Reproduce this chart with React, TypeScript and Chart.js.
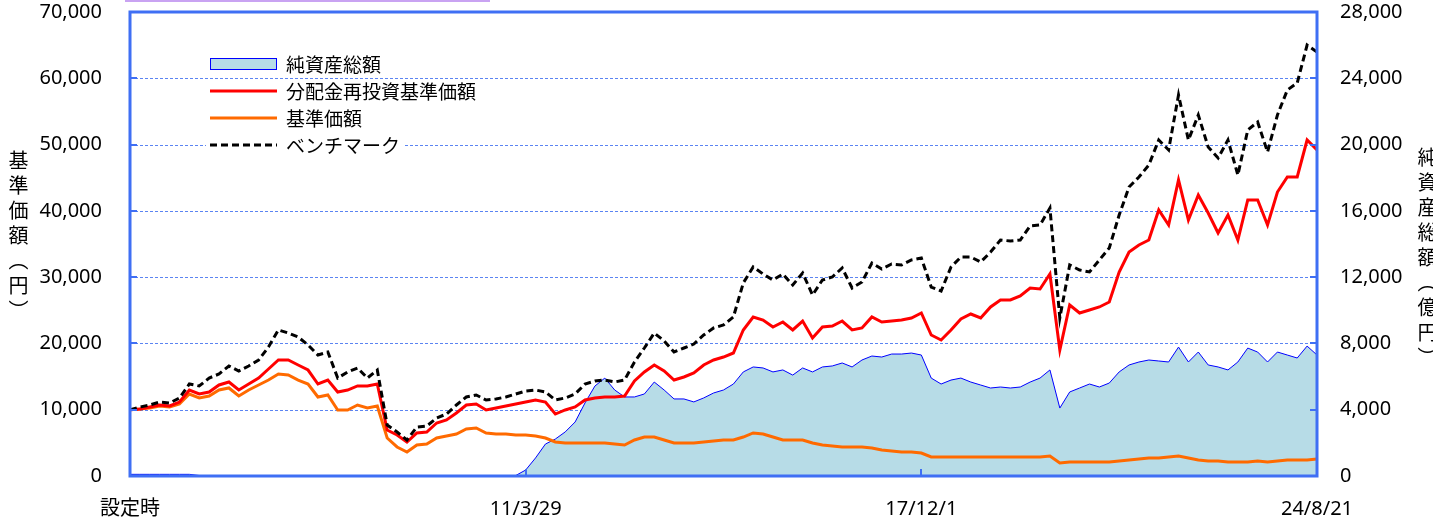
import React, { useEffect, useRef } from 'react';
import { Chart, registerables } from 'chart.js';

Chart.register(...registerables);

// ---- data ----
const xTickLabels = ['設定時', '11/3/29', '17/12/1', '24/8/21'];
const xTickIndex = [0, 40, 80, 120];
const sampleIndex = Array.from({ length: 121 }, (_, i) => i);

const leftTicks = [0, 10000, 20000, 30000, 40000, 50000, 60000, 70000];
const rightTicks = [0, 4000, 8000, 12000, 16000, 20000, 24000, 28000];

const legendLabels = ['純資産総額', '分配金再投資基準価額', '基準価額', 'ベンチマーク'];

// 純資産総額（億円）
const netAssets = [
  100, 100, 100, 100, 100, 100, 100, 30, 30, 30,
  30, 30, 30, 30, 30, 30, 30, 30, 30, 30,
  30, 30, 30, 30, 30, 30, 30, 30, 30, 30,
  30, 30, 30, 30, 30, 30, 30, 30, 30, 30,
  360, 1090, 1930, 2230, 2660, 3260, 4410, 5430, 5910, 5190,
  4770, 4770, 4950, 5670, 5190, 4650, 4650, 4470, 4710, 5010,
  5190, 5550, 6280, 6580, 6520, 6280, 6400, 6090, 6520, 6280,
  6580, 6640, 6820, 6580, 7000, 7240, 7180, 7360, 7360, 7420,
  7300, 5910, 5550, 5790, 5910, 5670, 5490, 5310, 5370, 5310,
  5370, 5670, 5910, 6400, 4100, 5070, 5310, 5550, 5370, 5610,
  6280, 6700, 6880, 7000, 6940, 6880, 7780, 6880, 7480, 6700,
  6580, 6400, 6880, 7720, 7480, 6880, 7480, 7300, 7120, 7840,
  7300,
];

// 分配金再投資基準価額（円）
const reinvested = [
  10000, 10110, 10410, 10710, 10560, 11160, 12970, 12370, 12670, 13730,
  14180, 12970, 13880, 14780, 16140, 17500, 17500, 16750, 15990, 13880,
  14480, 12670, 12970, 13580, 13580, 13880, 6940, 6190, 5130, 6490,
  6640, 8000, 8450, 9500, 10710, 10860, 9960, 10260, 10560, 10860,
  11160, 11470, 11160, 9350, 9960, 10410, 11470, 11770, 11920, 11920,
  12070, 14330, 15690, 16750, 15840, 14480, 14940, 15540, 16750, 17500,
  17950, 18560, 22030, 23990, 23530, 22480, 23230, 22030, 23380, 20820,
  22480, 22630, 23380, 22030, 22330, 23990, 23230, 23380, 23530, 23840,
  24590, 21270, 20520, 22030, 23690, 24440, 23840, 25500, 26550, 26550,
  27160, 28360, 28210, 30470, 19010, 25800, 24590, 25040, 25500, 26250,
  30780, 33790, 34850, 35600, 40130, 37870, 44660, 38620, 42390, 39680,
  36660, 39370, 35600, 41640, 41640, 37870, 42840, 45110, 45110, 50690,
  49180,
];

// 基準価額（円）
const navPrice = [
  10000, 10110, 10260, 10560, 10410, 10860, 12370, 11770, 12070, 12970,
  13280, 12070, 12970, 13730, 14480, 15390, 15240, 14480, 13880, 11920,
  12220, 9960, 9960, 10710, 10260, 10560, 5730, 4380, 3620, 4680,
  4830, 5730, 6030, 6340, 7090, 7240, 6490, 6340, 6340, 6190,
  6190, 6030, 5730, 5130, 4980, 4980, 4980, 4980, 4980, 4830,
  4680, 5430, 5880, 5880, 5430, 4980, 4980, 4980, 5130, 5280,
  5430, 5430, 5880, 6490, 6340, 5880, 5430, 5430, 5430, 4980,
  4680, 4530, 4380, 4380, 4380, 4220, 3920, 3770, 3620, 3620,
  3470, 2870, 2870, 2870, 2870, 2870, 2870, 2870, 2870, 2870,
  2870, 2870, 2870, 3020, 1960, 2110, 2110, 2110, 2110, 2110,
  2260, 2410, 2570, 2720, 2720, 2870, 3020, 2720, 2410, 2260,
  2260, 2110, 2110, 2110, 2260, 2110, 2260, 2410, 2410, 2410,
  2570,
];

// ベンチマーク
const benchmark = [
  10000, 10410, 10710, 11160, 11010, 11770, 13880, 13580, 14780, 15390,
  16600, 15840, 16600, 17500, 19460, 22030, 21570, 20970, 19760, 18250,
  18710, 14780, 15690, 16290, 14780, 15990, 7690, 6640, 5430, 7390,
  7540, 8750, 9350, 10710, 11920, 12220, 11470, 11620, 11920, 12370,
  12820, 12970, 12670, 11470, 11770, 12370, 13880, 14330, 14480, 14180,
  14480, 17200, 19310, 21570, 20370, 18710, 19310, 19910, 21270, 22330,
  22780, 23990, 29120, 31530, 30470, 29570, 30470, 28810, 30630, 27310,
  29570, 30020, 31380, 28360, 29270, 32130, 31230, 31980, 31830, 32590,
  32890, 28510, 27910, 31530, 33040, 33040, 32280, 33790, 35600, 35450,
  35600, 37720, 37870, 40430, 23840, 31830, 31080, 30780, 32590, 34400,
  39370, 43600, 45110, 46920, 50690, 49180, 57480, 50690, 54460, 49630,
  47970, 50690, 45410, 52200, 53400, 48880, 54460, 58230, 59290, 65020,
  63970,
];

// ---- styles ----
const AXIS_BLUE = '#3f6ff4';
const GRID_BLUE = '#5b84f2';
const FONT = '"Noto Sans", "Noto Sans CJK JP", sans-serif';
const CJK_FONT = '"Noto Sans CJK JP", "Noto Sans", sans-serif';

const framePlugin = {
  id: 'frame',
  beforeDatasetsDraw(chart: any) {
    const { ctx, chartArea: a, scales } = chart;
    ctx.save();
    ctx.strokeStyle = GRID_BLUE;
    ctx.lineWidth = 1;
    ctx.setLineDash([3, 2]);
    leftTicks.forEach((v) => {
      if (v <= 0 || v >= 70000) return;
      const y = Math.round(scales.y.getPixelForValue(v)) + 0.5;
      ctx.beginPath();
      ctx.moveTo(a.left, y);
      ctx.lineTo(a.right, y);
      ctx.stroke();
    });
    ctx.restore();
  },
  afterDatasetsDraw(chart: any) {
    const { ctx, chartArea: a, scales } = chart;
    ctx.save();
    ctx.setLineDash([]);
    ctx.strokeStyle = AXIS_BLUE;
    ctx.lineWidth = 2;
    leftTicks.forEach((v) => {
      const y = Math.round(scales.y.getPixelForValue(v));
      ctx.beginPath();
      ctx.moveTo(a.left, y);
      ctx.lineTo(a.left + 7, y);
      ctx.stroke();
    });
    rightTicks.forEach((v) => {
      const y = Math.round(scales.y1.getPixelForValue(v));
      ctx.beginPath();
      ctx.moveTo(a.right - 7, y);
      ctx.lineTo(a.right, y);
      ctx.stroke();
    });
    xTickIndex.forEach((v) => {
      const x = Math.round(scales.x.getPixelForValue(v));
      ctx.beginPath();
      ctx.moveTo(x, a.bottom);
      ctx.lineTo(x, a.bottom - 7);
      ctx.stroke();
    });
    ctx.lineWidth = 3;
    ctx.strokeRect(a.left, a.top, a.right - a.left, a.bottom - a.top);

    // legend
    const lx = a.left + 80;
    const sw = 67;
    const tx = lx + sw + 9;
    const y0 = a.top + 52;
    const step = 27;
    ctx.font = '19px ' + CJK_FONT;
    ctx.textBaseline = 'middle';
    chart.data.datasets.forEach((ds: any, i: number) => {
      const y = y0 + i * step;
      const w = ctx.measureText(ds.label).width;
      ctx.fillStyle = '#ffffff';
      ctx.fillRect(lx - 4, y - 10, tx + w + 4 - (lx - 4), 20);
      if (ds.fill) {
        ctx.fillStyle = ds.backgroundColor;
        ctx.fillRect(lx, y - 6, sw, 12);
        ctx.strokeStyle = ds.borderColor;
        ctx.lineWidth = 1;
        ctx.setLineDash([]);
        ctx.strokeRect(lx + 0.5, y - 5.5, sw - 1, 11);
      } else {
        ctx.strokeStyle = ds.borderColor;
        ctx.lineWidth = 3;
        ctx.setLineDash(ds.borderDash || []);
        ctx.beginPath();
        ctx.moveTo(lx, y);
        ctx.lineTo(lx + sw, y);
        ctx.stroke();
      }
      ctx.setLineDash([]);
      ctx.fillStyle = '#000000';
      ctx.fillText(ds.label, tx, y + 1);
    });
    ctx.restore();
  },
};

export default function App() {
  const canvasRef = useRef<HTMLCanvasElement | null>(null);

  useEffect(() => {
    const canvas = canvasRef.current;
    if (!canvas) return;
    const chart = new Chart(canvas, {
      type: 'line',
      data: {
        labels: sampleIndex,
        datasets: [
          {
            label: legendLabels[0],
            data: netAssets,
            yAxisID: 'y1',
            borderColor: '#0000ff',
            backgroundColor: '#b7dce7',
            borderWidth: 1,
            fill: 'origin',
            order: 4,
          },
          {
            label: legendLabels[1],
            data: reinvested,
            yAxisID: 'y',
            borderColor: '#ff0000',
            borderWidth: 3,
            fill: false,
            order: 2,
          },
          {
            label: legendLabels[2],
            data: navPrice,
            yAxisID: 'y',
            borderColor: '#ff6a00',
            borderWidth: 3,
            fill: false,
            order: 3,
          },
          {
            label: legendLabels[3],
            data: benchmark,
            yAxisID: 'y',
            borderColor: '#000000',
            borderWidth: 3,
            borderDash: [7, 4],
            fill: false,
            order: 1,
          },
        ],
      } as any,
      options: {
        responsive: false,
        maintainAspectRatio: false,
        animation: false,
        layout: { padding: { top: 12, left: 0, right: 0, bottom: 0 } },
        elements: { point: { radius: 0 }, line: { tension: 0 } },
        plugins: { legend: { display: false }, tooltip: { enabled: false } },
        scales: {
          x: {
            type: 'linear',
            min: 0,
            max: 120,
            grid: { display: false, drawTicks: false },
            border: { display: false },
            afterBuildTicks: (s: any) => {
              s.ticks = xTickIndex.map((v) => ({ value: v }));
            },
            afterFit: (s: any) => {
              s.height = 46;
            },
            ticks: {
              autoSkip: false,
              maxRotation: 0,
              padding: 21,
              color: '#000000',
              font: { family: FONT, size: 20 },
              callback: (v: any) => {
                const k = xTickIndex.indexOf(Number(v));
                return k >= 0 ? xTickLabels[k] : '';
              },
            },
          },
          y: {
            position: 'left',
            min: 0,
            max: 70000,
            grid: { display: false, drawTicks: true, tickLength: 28 },
            border: { display: false },
            afterBuildTicks: (s: any) => {
              s.ticks = leftTicks.map((v) => ({ value: v }));
            },
            afterFit: (s: any) => {
              s.width = 130;
            },
            ticks: {
              padding: 0,
              color: '#000000',
              font: { family: FONT, size: 20 },
              callback: (v: any) => Number(v).toLocaleString('en-US'),
            },
          },
          y1: {
            position: 'right',
            min: 0,
            max: 28000,
            grid: { display: false, drawTicks: true, tickLength: 23 },
            border: { display: false },
            afterBuildTicks: (s: any) => {
              s.ticks = rightTicks.map((v) => ({ value: v }));
            },
            afterFit: (s: any) => {
              s.width = 116;
            },
            ticks: {
              padding: 0,
              color: '#000000',
              font: { family: FONT, size: 20 },
              callback: (v: any) => Number(v).toLocaleString('en-US'),
            },
          },
        },
      } as any,
      plugins: [framePlugin],
    });
    return () => chart.destroy();
  }, []);

  const titleStyle: React.CSSProperties = {
    position: 'absolute',
    writingMode: 'vertical-rl',
    fontFamily: CJK_FONT,
    fontSize: '20px',
    letterSpacing: '5px',
    lineHeight: '20px',
    color: '#000',
  };

  return (
    <div
      style={{
        position: 'fixed',
        left: 0,
        top: 0,
        width: 1433,
        height: 522,
        overflow: 'hidden',
        background: '#ffffff',
      }}
    >
      <div
        style={{
          position: 'absolute',
          left: 125,
          top: 0,
          width: 365,
          height: 2,
          background: '#c9a3f2',
        }}
      />
      <canvas ref={canvasRef} width={1433} height={522} style={{ position: 'absolute', left: 0, top: 0 }} />
      <div style={{ ...titleStyle, left: 8, top: 150 }}>基準価額（円）</div>
      <div style={{ ...titleStyle, left: 1417, top: 147 }}>純資産総額（億円）</div>
    </div>
  );
}
